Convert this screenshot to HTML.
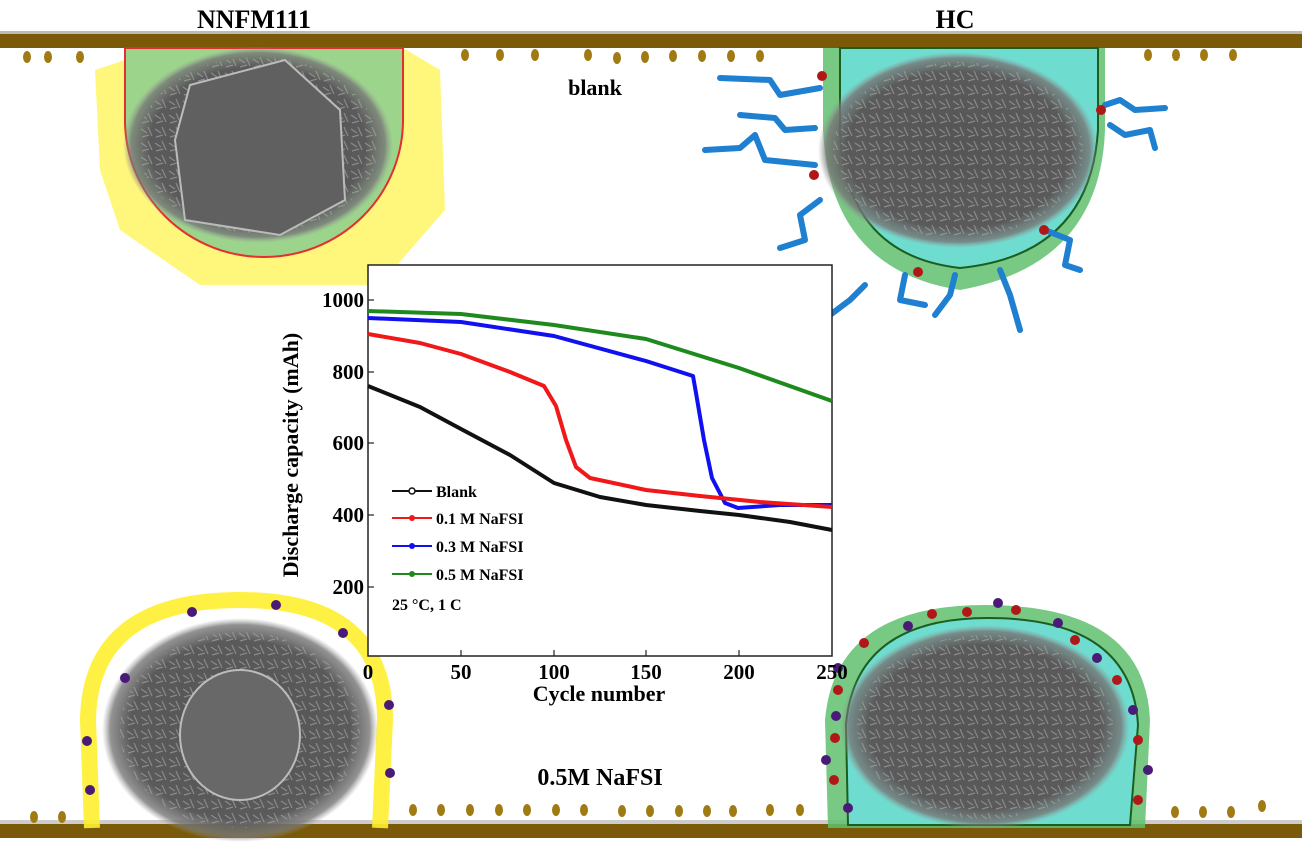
<!DOCTYPE html>
<html><head><style>
html,body{margin:0;padding:0;background:#fff;width:1302px;height:846px;overflow:hidden}
svg{display:block}
text{font-family:"Liberation Serif",serif;font-weight:bold}
</style></head><body>
<svg width="1302" height="846" viewBox="0 0 1302 846">
<defs>
<radialGradient id="sem" cx="50%" cy="50%" r="50%">
<stop offset="0" stop-color="#555"/><stop offset="0.8" stop-color="#5a5a5a"/><stop offset="0.94" stop-color="#777" stop-opacity="0.8"/><stop offset="1" stop-color="#999" stop-opacity="0"/>
</radialGradient>
<pattern id="tex" width="14" height="14" patternUnits="userSpaceOnUse">
<rect width="14" height="14" fill="none"/><path d="M1 3l6 4M8 1l4 9M2 11l7-2" stroke="#aaa" stroke-width="1.2" opacity="0.6"/>
</pattern>
</defs>
<rect x="0" y="31" width="1302" height="4" fill="#bbb"/>
<rect x="0" y="34" width="1302" height="14" fill="#7a5a08"/>
<g fill="#a07a12">
<ellipse cx="27" cy="57" rx="4" ry="6"/><ellipse cx="48" cy="57" rx="4" ry="6"/><ellipse cx="80" cy="57" rx="4" ry="6"/>
<ellipse cx="465" cy="55" rx="4" ry="6"/><ellipse cx="500" cy="55" rx="4" ry="6"/><ellipse cx="535" cy="55" rx="4" ry="6"/>
<ellipse cx="588" cy="55" rx="4" ry="6"/><ellipse cx="617" cy="58" rx="4" ry="6"/><ellipse cx="645" cy="57" rx="4" ry="6"/><ellipse cx="673" cy="56" rx="4" ry="6"/><ellipse cx="702" cy="56" rx="4" ry="6"/><ellipse cx="731" cy="56" rx="4" ry="6"/><ellipse cx="760" cy="56" rx="4" ry="6"/>
<ellipse cx="1148" cy="55" rx="4" ry="6"/><ellipse cx="1176" cy="55" rx="4" ry="6"/><ellipse cx="1204" cy="55" rx="4" ry="6"/><ellipse cx="1233" cy="55" rx="4" ry="6"/>
</g>
<text x="254" y="28" font-size="26" text-anchor="middle">NNFM111</text>
<text x="955" y="28" font-size="26" text-anchor="middle">HC</text>
<text x="595" y="95" font-size="22" text-anchor="middle">blank</text>
<path d="M95 70 L125 60 L125 48 L403 48 L440 70 L445 210 L410 250 L380 285 L200 285 L120 230 L100 170 Z" fill="#fff55a" opacity="0.8"/>
<path d="M125 48 L403 48 L403 120 A139 137 0 0 1 125 120 Z" fill="#9cd48c" stroke="#e03030" stroke-width="2"/>
<ellipse cx="258" cy="145" rx="135" ry="98" fill="url(#sem)"/>
<ellipse cx="258" cy="145" rx="120" ry="88" fill="url(#tex)"/>
<path d="M190 85 L285 60 L340 110 L345 200 L280 235 L185 220 L175 140 Z" fill="#606060" stroke="#bbb" stroke-width="2"/>
<path d="M823 48 L1105 48 L1105 130 Q1100 265 960 290 Q830 270 823 130 Z" fill="#5fbf6f" opacity="0.85"/>
<path d="M840 48 L1098 48 L1098 130 Q1090 255 960 268 Q845 255 840 130 Z" fill="#6fdcd0" stroke="#1b5e20" stroke-width="2"/>
<ellipse cx="958" cy="150" rx="140" ry="98" fill="url(#sem)"/>
<ellipse cx="958" cy="150" rx="125" ry="88" fill="url(#tex)"/>
<g fill="none" stroke="#1f7fd0" stroke-width="6" stroke-linecap="round" stroke-linejoin="round">
<path d="M720 78 L770 80 L780 95 L820 88"/>
<path d="M740 115 L775 118 L785 130 L815 128"/>
<path d="M705 150 L740 148 L755 135 L765 160 L815 165"/>
<path d="M1105 105 L1120 100 L1135 110 L1165 108"/>
<path d="M1110 125 L1125 135 L1150 130 L1155 148"/>
<path d="M820 200 L800 215 L805 240 L780 248"/>
<path d="M1045 230 L1070 240 L1065 265 L1080 270"/>
<path d="M865 285 L850 300 L830 315"/>
<path d="M905 275 L900 300 L925 305"/>
<path d="M955 275 L950 295 L935 315"/>
<path d="M1000 270 L1010 295 L1020 330"/>
</g>
<g fill="#b01818"><circle cx="822" cy="76" r="5"/><circle cx="1101" cy="110" r="5"/><circle cx="814" cy="175" r="5"/><circle cx="1044" cy="230" r="5"/><circle cx="918" cy="272" r="5"/></g>
<rect x="0" y="820" width="1302" height="5" fill="#ccc"/>
<rect x="0" y="824" width="1302" height="14" fill="#7a5a08"/>
<g fill="#a07a12">
<ellipse cx="34" cy="817" rx="4" ry="6"/><ellipse cx="62" cy="817" rx="4" ry="6"/>
<ellipse cx="413" cy="810" rx="4" ry="6"/><ellipse cx="441" cy="810" rx="4" ry="6"/><ellipse cx="470" cy="810" rx="4" ry="6"/><ellipse cx="499" cy="810" rx="4" ry="6"/><ellipse cx="527" cy="810" rx="4" ry="6"/><ellipse cx="556" cy="810" rx="4" ry="6"/><ellipse cx="584" cy="810" rx="4" ry="6"/><ellipse cx="622" cy="811" rx="4" ry="6"/><ellipse cx="650" cy="811" rx="4" ry="6"/><ellipse cx="679" cy="811" rx="4" ry="6"/><ellipse cx="707" cy="811" rx="4" ry="6"/><ellipse cx="733" cy="811" rx="4" ry="6"/><ellipse cx="770" cy="810" rx="4" ry="6"/><ellipse cx="800" cy="810" rx="4" ry="6"/>
<ellipse cx="1175" cy="812" rx="4" ry="6"/><ellipse cx="1203" cy="812" rx="4" ry="6"/><ellipse cx="1231" cy="812" rx="4" ry="6"/><ellipse cx="1262" cy="806" rx="4" ry="6"/>
</g>
<text x="600" y="785" font-size="24" text-anchor="middle">0.5M NaFSI</text>
<path d="M92 828 L88 720 Q90 600 240 600 Q385 600 385 720 L380 828" fill="none" stroke="#fff030" stroke-width="16" opacity="0.9"/>
<ellipse cx="240" cy="730" rx="138" ry="112" fill="url(#sem)"/>
<ellipse cx="240" cy="730" rx="120" ry="98" fill="url(#tex)"/>
<ellipse cx="240" cy="735" rx="60" ry="65" fill="#686868" stroke="#bbb" stroke-width="2"/>
<g fill="#4a1a78"><circle cx="192" cy="612" r="5"/><circle cx="276" cy="605" r="5"/><circle cx="343" cy="633" r="5"/><circle cx="125" cy="678" r="5"/><circle cx="389" cy="705" r="5"/><circle cx="87" cy="741" r="5"/><circle cx="390" cy="773" r="5"/><circle cx="90" cy="790" r="5"/></g>
<path d="M828 828 L825 720 Q835 605 985 605 Q1145 605 1150 720 L1145 828 Z" fill="#5fbf6f" opacity="0.85"/>
<path d="M848 825 L846 725 Q855 618 988 618 Q1132 618 1138 725 L1130 825 Z" fill="#6fdcd0" stroke="#1b5e20" stroke-width="2"/>
<ellipse cx="985" cy="727" rx="145" ry="102" fill="url(#sem)"/>
<ellipse cx="985" cy="727" rx="128" ry="92" fill="url(#tex)"/>
<g fill="#b01818"><circle cx="932" cy="614" r="5"/><circle cx="967" cy="612" r="5"/><circle cx="1016" cy="610" r="5"/><circle cx="864" cy="643" r="5"/><circle cx="1075" cy="640" r="5"/><circle cx="838" cy="690" r="5"/><circle cx="1117" cy="680" r="5"/><circle cx="835" cy="738" r="5"/><circle cx="1138" cy="740" r="5"/><circle cx="834" cy="780" r="5"/><circle cx="1138" cy="800" r="5"/></g>
<g fill="#4a1a78"><circle cx="998" cy="603" r="5"/><circle cx="908" cy="626" r="5"/><circle cx="1058" cy="623" r="5"/><circle cx="1097" cy="658" r="5"/><circle cx="838" cy="668" r="5"/><circle cx="1133" cy="710" r="5"/><circle cx="836" cy="716" r="5"/><circle cx="826" cy="760" r="5"/><circle cx="1148" cy="770" r="5"/><circle cx="848" cy="808" r="5"/></g>
<!-- chart -->
<rect x="368" y="265" width="464" height="391" fill="#fff" stroke="#222" stroke-width="1.5"/>
<g stroke="#222" stroke-width="1.2">
<line x1="368" y1="300" x2="374" y2="300"/><line x1="368" y1="372" x2="374" y2="372"/><line x1="368" y1="443" x2="374" y2="443"/><line x1="368" y1="515" x2="374" y2="515"/><line x1="368" y1="587" x2="374" y2="587"/>
<line x1="461" y1="656" x2="461" y2="650"/><line x1="554" y1="656" x2="554" y2="650"/><line x1="646" y1="656" x2="646" y2="650"/><line x1="739" y1="656" x2="739" y2="650"/>
</g>
<g font-size="21" text-anchor="end">
<text x="364" y="307">1000</text><text x="364" y="379">800</text><text x="364" y="450">600</text><text x="364" y="522">400</text><text x="364" y="594">200</text>
</g>
<g font-size="21" text-anchor="middle">
<text x="368" y="679">0</text><text x="461" y="679">50</text><text x="554" y="679">100</text><text x="646" y="679">150</text><text x="739" y="679">200</text><text x="832" y="679">250</text>
</g>
<text x="599" y="701" font-size="22" text-anchor="middle">Cycle number</text>
<text transform="translate(298,455) rotate(-90)" font-size="22" text-anchor="middle">Discharge capacity (mAh)</text>
<g fill="none" stroke-width="4" stroke-linejoin="round">
<polyline stroke="#1e8a1e" points="368,311 461,314 554,325 646,339 739,368 832,401"/>
<polyline stroke="#1010f0" points="368,318 461,322 554,336 646,361 693,376 696,393 704,440 712,478 725,503 738,508 780,505 832,505"/>
<polyline stroke="#f01818" points="368,334 420,343 461,354 510,372 544,386 556,406 566,440 576,467 590,478 646,490 700,496 760,502 832,507"/>
<polyline stroke="#111" points="368,386 420,407 461,429 510,455 554,483 600,497 646,505 700,511 739,515 790,522 832,530"/>
</g>
<g font-size="16">
<line x1="392" y1="491" x2="432" y2="491" stroke="#111" stroke-width="2"/><circle cx="412" cy="491" r="3" fill="#fff" stroke="#111" stroke-width="1.5"/><text x="436" y="497">Blank</text>
<line x1="392" y1="518" x2="432" y2="518" stroke="#f01818" stroke-width="2"/><circle cx="412" cy="518" r="3" fill="#f01818"/><text x="436" y="524">0.1 M NaFSI</text>
<line x1="392" y1="546" x2="432" y2="546" stroke="#1010f0" stroke-width="2"/><circle cx="412" cy="546" r="3" fill="#1010f0"/><text x="436" y="552">0.3 M NaFSI</text>
<line x1="392" y1="574" x2="432" y2="574" stroke="#1e8a1e" stroke-width="2"/><circle cx="412" cy="574" r="3" fill="#1e8a1e"/><text x="436" y="580">0.5 M NaFSI</text>
<text x="392" y="610">25 °C, 1 C</text>
</g>
</svg>
</body></html>
